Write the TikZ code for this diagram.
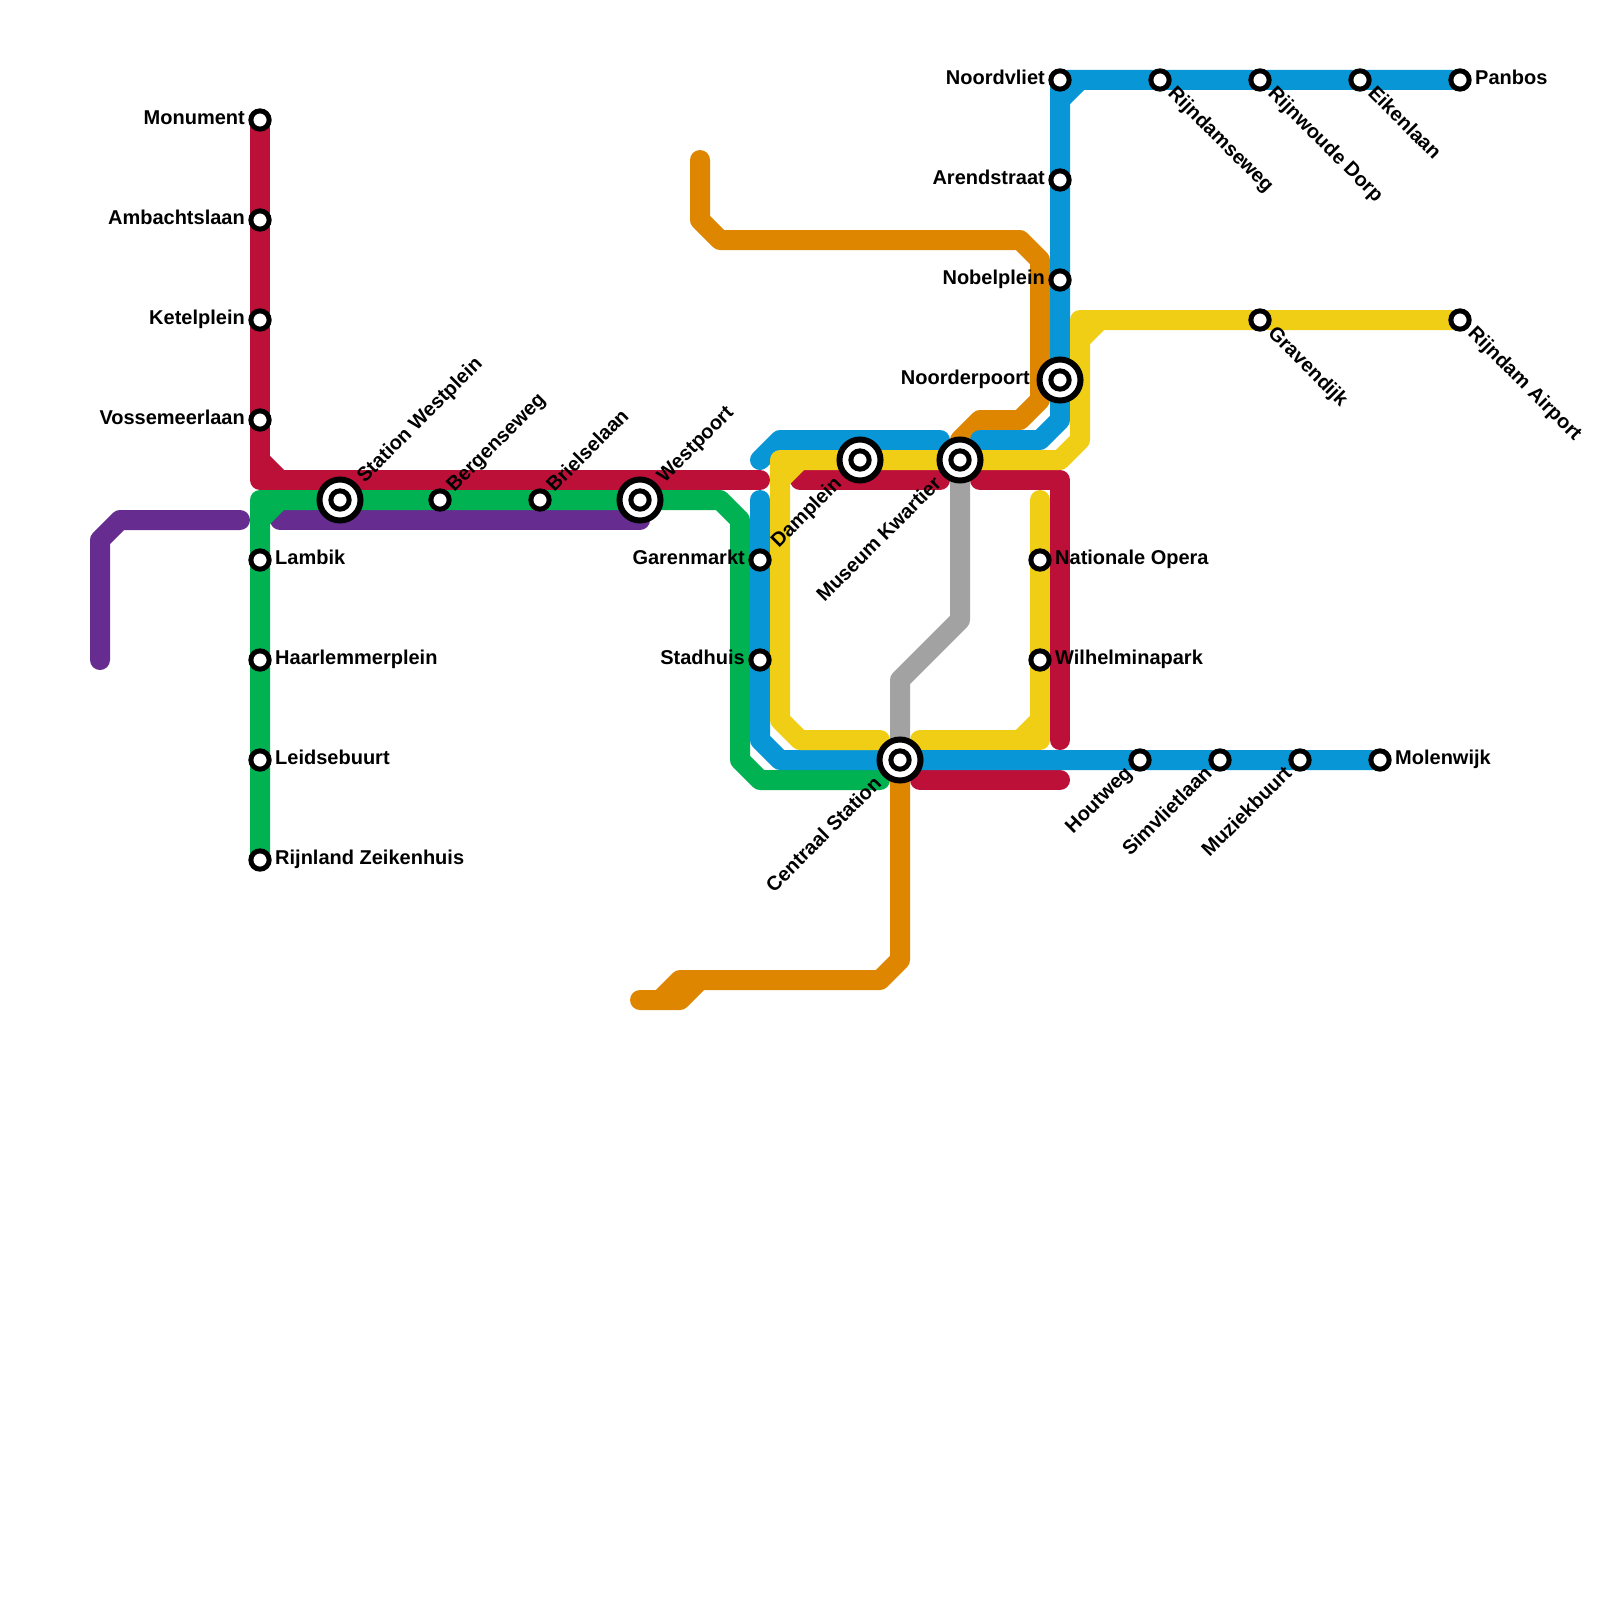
\documentclass[tikz,border=0pt]{standalone}
\usepackage{fontspec}
\setmainfont{Liberation Sans}
\definecolor{lred}{HTML}{BD1038}
\definecolor{lgreen}{HTML}{00B251}
\definecolor{lblue}{HTML}{0896D7}
\definecolor{lyellow}{HTML}{F0CE15}
\definecolor{lorange}{HTML}{DF8600}
\definecolor{lpurple}{HTML}{662C90}
\definecolor{lgray}{HTML}{A2A2A2}
\tikzset{
  metro/.style={line width=20pt,line cap=round,line join=round},
  st/.style={circle,draw=black,fill=white,line width=5pt,minimum size=18.3pt,inner sep=0pt},
  bigring/.style={circle,draw=black,fill=white,line width=6pt,minimum size=41pt,inner sep=0pt},
  lb/.style={font=\fontsize{20}{22}\selectfont\bfseries,text=black,inner sep=0pt,text height=14.5pt,text depth=4.2pt},
  labL/.style={lb,anchor=east,xshift=-15pt,yshift=1pt},
  labR/.style={lb,anchor=west,xshift=15pt,yshift=1pt},
  labUR/.style={lb,anchor=west,xshift=10.6pt,yshift=10.6pt,rotate=45},
  labDR/.style={lb,anchor=west,xshift=10.6pt,yshift=-10.6pt,rotate=-45},
  labDL/.style={lb,anchor=east,xshift=-10.6pt,yshift=-10.6pt,rotate=45},
  labURbig/.style={lb,anchor=west,xshift=21pt,yshift=20pt,rotate=45},
  labDLbig/.style={lb,anchor=east,xshift=-21pt,yshift=-21pt,rotate=45},
  labLbig/.style={lb,anchor=east,xshift=-30pt,yshift=1pt},
}
\begin{document}
\begin{tikzpicture}[x=1pt,y=-1pt]
\useasboundingbox (0,0) rectangle (1600,1600);
% purple
\draw[metro,lpurple] (100,660)--(100,540)--(120,520)--(240,520);
\draw[metro,lpurple] (280,520)--(640,520);
% red
\draw[metro,lred] (260,120)--(260,480)--(760,480);
\draw[metro,lred] (260,460)--(280,480);
\draw[metro,lred] (800,480)--(940,480);
\draw[metro,lred] (980,480)--(1060,480)--(1060,740);
\draw[metro,lred] (920,780)--(1060,780);
% green
\draw[metro,lgreen] (260,860)--(260,500)--(720,500)--(740,520)--(740,760)--(760,780)--(880,780);
\draw[metro,lgreen] (260,520)--(280,500);
% gray
\draw[metro,lgray] (960,480)--(960,620)--(900,680)--(900,750);
% orange
\draw[metro,lorange] (700,160)--(700,220)--(720,240)--(1020,240)--(1040,260)--(1040,400)--(1020,420)--(980,420)--(960,440);
\draw[metro,lorange] (900,770)--(900,960)--(880,980)--(680,980)--(660,1000)--(640,1000)--(680,1000)--(700,980);
% blue
\draw[metro,lblue] (760,460)--(780,440)--(940,440);
\draw[metro,lblue] (760,500)--(760,740)--(780,760)--(1380,760);
\draw[metro,lblue] (1460,80)--(1060,80)--(1060,420)--(1040,440)--(980,440);
\draw[metro,lblue] (1060,100)--(1080,80);
% yellow
\draw[metro,lyellow] (880,740)--(800,740)--(780,720)--(780,460)--(1060,460)--(1080,440)--(1080,320)--(1460,320);
\draw[metro,lyellow] (780,480)--(800,460);
\draw[metro,lyellow] (1080,340)--(1100,320);
\draw[metro,lyellow] (920,740)--(1040,740)--(1040,500);
\draw[metro,lyellow] (1020,740)--(1040,720);
% big station rings
\node[bigring] (rWestplein) at (340,500) {};
\node[bigring] (rWestpoort) at (640,500) {};
\node[bigring] (rDamplein) at (860,460) {};
\node[bigring] (rMuseum) at (960,460) {};
\node[bigring] (rCentraal) at (900,760) {};
\node[bigring] (rNoorderpoort) at (1060,380) {};
% stations
\node[st] (monument) at (260,120) {};
\node[st] (ambacht) at (260,220) {};
\node[st] (ketel) at (260,320) {};
\node[st] (vosse) at (260,420) {};
\node[st] (lambik) at (260,560) {};
\node[st] (haarlem) at (260,660) {};
\node[st] (leidse) at (260,760) {};
\node[st] (rijnland) at (260,860) {};
\node[st] (westplein) at (340,500) {};
\node[st] (bergen) at (440,500) {};
\node[st] (briel) at (540,500) {};
\node[st] (westpoort) at (640,500) {};
\node[st] (garen) at (760,560) {};
\node[st] (stadhuis) at (760,660) {};
\node[st] (damplein) at (860,460) {};
\node[st] (museum) at (960,460) {};
\node[st] (centraal) at (900,760) {};
\node[st] (noorderpoort) at (1060,380) {};
\node[st] (noordvliet) at (1060,80) {};
\node[st] (arend) at (1060,180) {};
\node[st] (nobel) at (1060,280) {};
\node[st] (opera) at (1040,560) {};
\node[st] (wilhelmina) at (1040,660) {};
\node[st] (houtweg) at (1140,760) {};
\node[st] (simvliet) at (1220,760) {};
\node[st] (muziek) at (1300,760) {};
\node[st] (molenwijk) at (1380,760) {};
\node[st] (rijndamseweg) at (1160,80) {};
\node[st] (rijnwoude) at (1260,80) {};
\node[st] (eikenlaan) at (1360,80) {};
\node[st] (panbos) at (1460,80) {};
\node[st] (gravendijk) at (1260,320) {};
\node[st] (airport) at (1460,320) {};
% labels
\node[labL] (tMonument) at (monument.center) {Monument};
\node[labL] (tAmbacht) at (ambacht.center) {Ambachtslaan};
\node[labL] (tKetel) at (ketel.center) {Ketelplein};
\node[labL] (tVosse) at (vosse.center) {Vossemeerlaan};
\node[labR] (tLambik) at (lambik.center) {Lambik};
\node[labR] (tHaarlem) at (haarlem.center) {Haarlemmerplein};
\node[labR] (tLeidse) at (leidse.center) {Leidsebuurt};
\node[labR] (tRijnland) at (rijnland.center) {Rijnland Zeikenhuis};
\node[labURbig] (tWestplein) at (westplein.center) {Station Westplein};
\node[labUR] (tBergen) at (bergen.center) {Bergenseweg};
\node[labUR] (tBriel) at (briel.center) {Brielselaan};
\node[labURbig] (tWestpoort) at (westpoort.center) {Westpoort};
\node[labL] (tGaren) at (garen.center) {Garenmarkt};
\node[labL] (tStadhuis) at (stadhuis.center) {Stadhuis};
\node[labDLbig] (tDamplein) at (damplein.center) {Damplein};
\node[labDLbig] (tMuseum) at (museum.center) {Museum Kwartier};
\node[labDLbig] (tCentraal) at (centraal.center) {Centraal Station};
\node[labLbig] (tNoorderpoort) at (noorderpoort.center) {Noorderpoort};
\node[labL] (tNoordvliet) at (noordvliet.center) {Noordvliet};
\node[labL] (tArend) at (arend.center) {Arendstraat};
\node[labL] (tNobel) at (nobel.center) {Nobelplein};
\node[labR] (tOpera) at (opera.center) {Nationale Opera};
\node[labR] (tWilhelmina) at (wilhelmina.center) {Wilhelminapark};
\node[labDL] (tHoutweg) at (houtweg.center) {Houtweg};
\node[labDL] (tSimvliet) at (simvliet.center) {Simvlietlaan};
\node[labDL] (tMuziek) at (muziek.center) {Muziekbuurt};
\node[labR] (tMolenwijk) at (molenwijk.center) {Molenwijk};
\node[labDR] (tRijndamseweg) at (rijndamseweg.center) {Rijndamseweg};
\node[labDR] (tRijnwoude) at (rijnwoude.center) {Rijnwoude Dorp};
\node[labDR] (tEikenlaan) at (eikenlaan.center) {Eikenlaan};
\node[labR] (tPanbos) at (panbos.center) {Panbos};
\node[labDR] (tGravendijk) at (gravendijk.center) {Gravendijk};
\node[labDR] (tAirport) at (airport.center) {Rijndam Airport};
\end{tikzpicture}
\end{document}
